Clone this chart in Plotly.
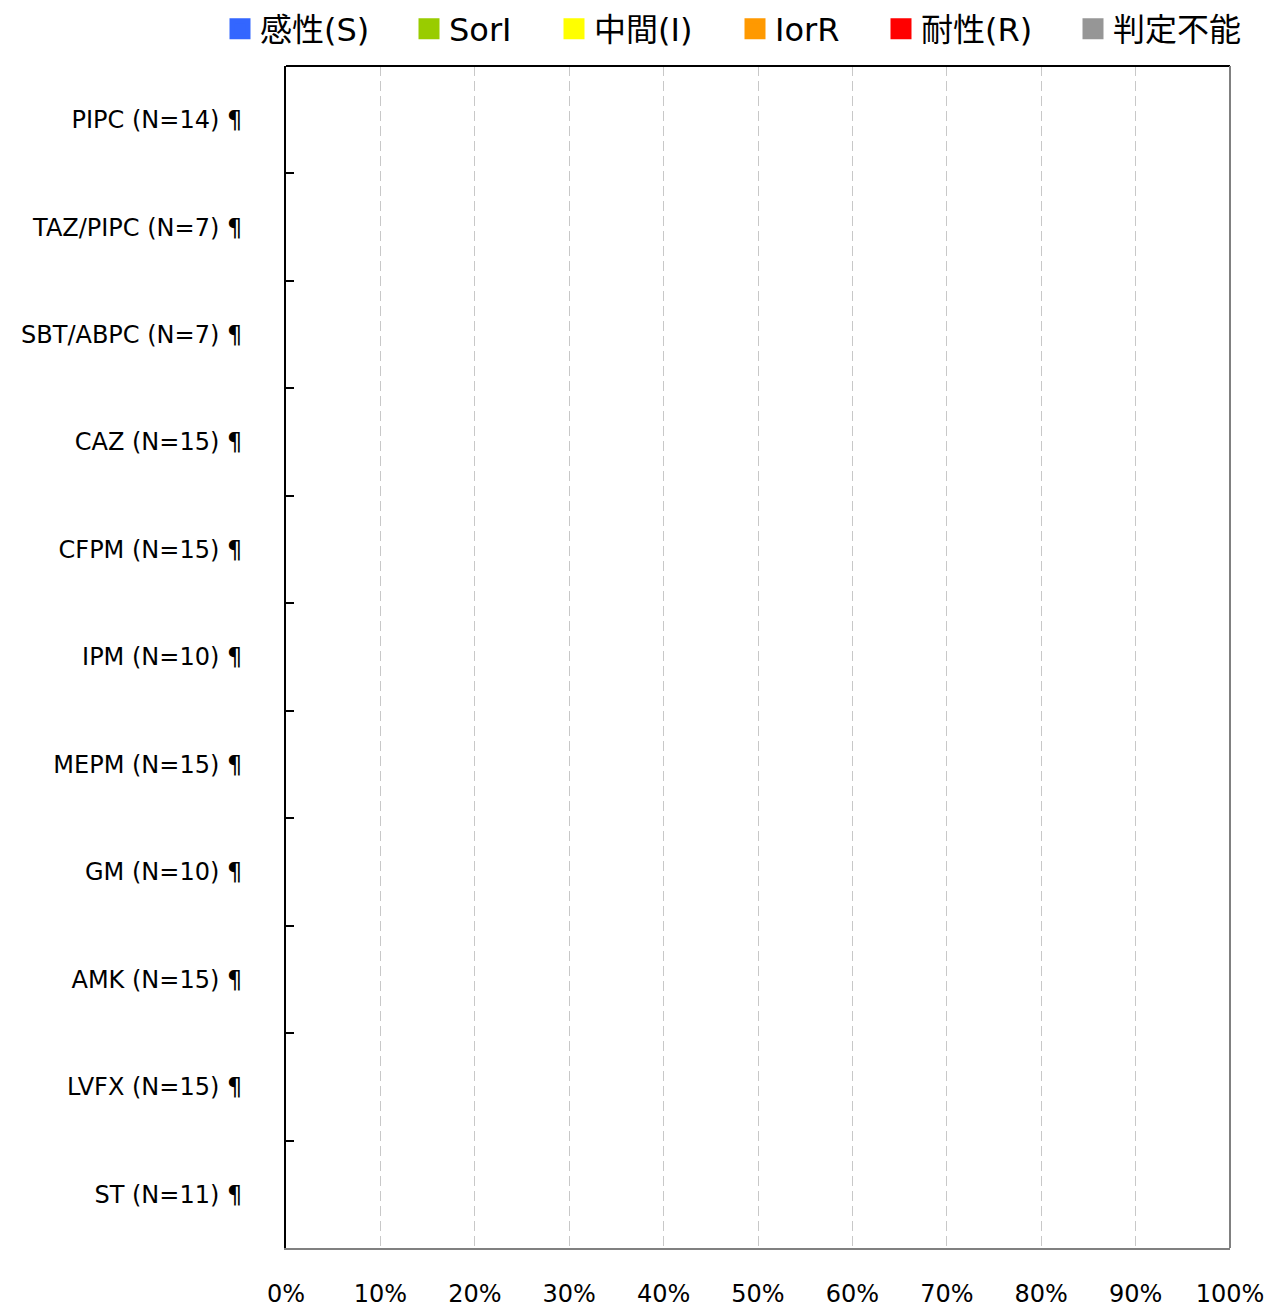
import plotly.graph_objects as go

categories = ["PIPC (N=14) ¶", "TAZ/PIPC (N=7) ¶", "SBT/ABPC (N=7) ¶", "CAZ (N=15) ¶",
              "CFPM (N=15) ¶", "IPM (N=10) ¶", "MEPM (N=15) ¶", "GM (N=10) ¶",
              "AMK (N=15) ¶", "LVFX (N=15) ¶", "ST (N=11) ¶"]
series_names = ["感性(S)", "SorI", "中間(I)", "IorR", "耐性(R)", "判定不能"]
series_colors = ["#3366ff", "#99cc00", "#ffff00", "#ff9900", "#ff0000", "#969696"]
val_S = [0, 0, 0, 0, 0, 0, 0, 0, 0, 0, 0]
val_SorI = [0, 0, 0, 0, 0, 0, 0, 0, 0, 0, 0]
val_I = [0, 0, 0, 0, 0, 0, 0, 0, 0, 0, 0]
val_IorR = [0, 0, 0, 0, 0, 0, 0, 0, 0, 0, 0]
val_R = [0, 0, 0, 0, 0, 0, 0, 0, 0, 0, 0]
val_NA = [0, 0, 0, 0, 0, 0, 0, 0, 0, 0, 0]
series_values = [val_S, val_SorI, val_I, val_IorR, val_R, val_NA]

FONT = "DejaVu Sans, Noto Sans CJK JP, sans-serif"

# layout geometry in page pixels
W, H = 1270, 1308
PLOT_L, PLOT_R, PLOT_T, PLOT_B = 286, 1230, 66, 1248
PW, PH = PLOT_R - PLOT_L, PLOT_B - PLOT_T
legend_centers = [240, 429, 574, 755, 901, 1093]
legend_mid_y = 29

fig = go.Figure()
legend_layouts = {}
for i, (name, color, vals) in enumerate(zip(series_names, series_colors, series_values)):
    lname = "legend" if i == 0 else f"legend{i + 1}"
    fig.add_trace(go.Bar(y=categories, x=vals, name=name, orientation="h",
                         marker=dict(color=color, line=dict(width=0)),
                         showlegend=False, legendgroup=name))
    fig.add_trace(go.Scatter(x=[None], y=[None], mode="markers", name=name,
                             marker=dict(symbol="square", size=16, color=color,
                                         line=dict(color=color, width=5)),
                             legendgroup=name, showlegend=True, legend=lname))
    legend_layouts[lname] = dict(
        orientation="h", x=(legend_centers[i] - 20 - PLOT_L) / PW, xanchor="left",
        y=(PLOT_B - legend_mid_y) / PH, yanchor="middle",
        font=dict(size=32, family=FONT, color="#000000"), itemsizing="trace",
        bgcolor="rgba(0,0,0,0)", borderwidth=0)

fig.update_layout(
    width=W, height=H,
    barmode="stack",
    plot_bgcolor="white", paper_bgcolor="white",
    margin=dict(l=PLOT_L, r=W - PLOT_R, t=PLOT_T, b=H - PLOT_B, pad=0,
                autoexpand=False),
    font=dict(family=FONT, color="#000000"),
    xaxis=dict(range=[0, 1], dtick=0.1, tick0=0, tickformat=".0%",
               showgrid=True, gridcolor="#c8c8c8", griddash="10px,5px", gridwidth=1,
               showline=True, linecolor="#808080", linewidth=2, mirror=False,
               ticks="", ticklabelstandoff=23, zeroline=False, automargin=False,
               tickfont=dict(size=24, family=FONT, color="#000000")),
    yaxis=dict(type="category", categoryorder="array", categoryarray=categories,
               autorange="reversed", showgrid=False, showline=True, linecolor="#000000",
               linewidth=2, ticks="inside", tickson="boundaries", ticklen=8,
               tickcolor="#000000", tickwidth=2, ticklabelstandoff=37, automargin=False,
               tickfont=dict(size=24, family=FONT, color="#000000")),
    shapes=[
        dict(type="line", xref="paper", yref="paper", x0=0, x1=1, y0=1, y1=1,
             line=dict(color="#000000", width=2)),
        dict(type="line", xref="paper", yref="paper", x0=1, x1=1, y0=0, y1=1,
             line=dict(color="#808080", width=2)),
    ],
    **legend_layouts,
)

fig.write_html("out.html",
               config={"displayModeBar": False},
               post_script="document.body.style.margin='0px';"
                           "document.body.style.overflow='hidden';")
